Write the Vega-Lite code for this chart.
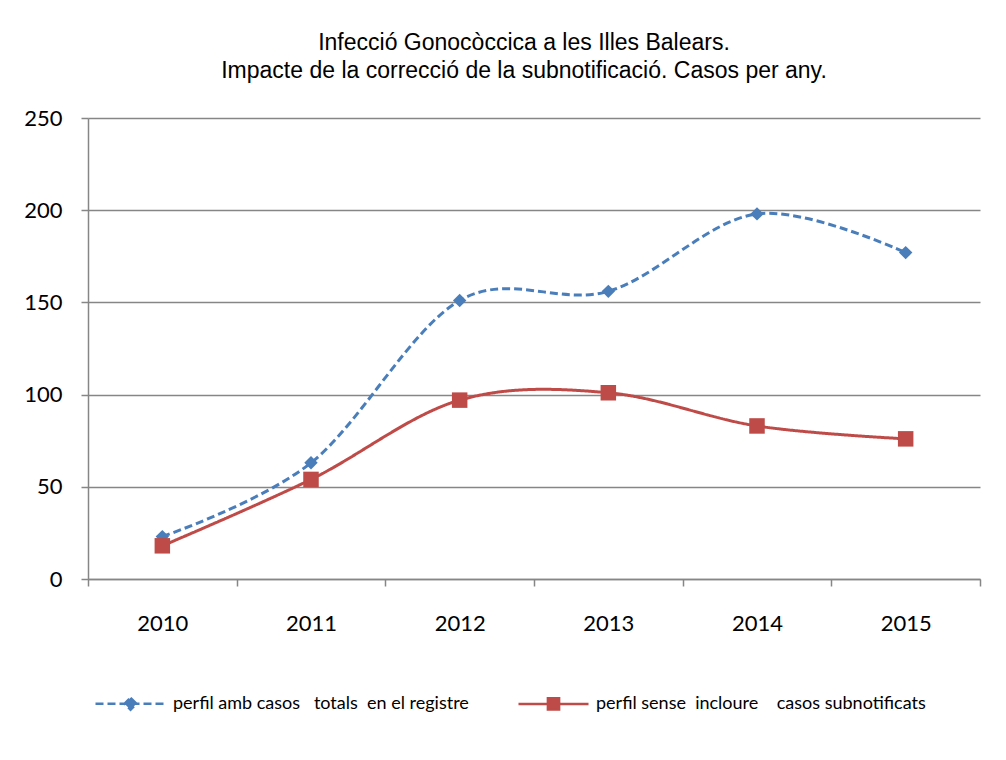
{
  "$schema": "https://vega.github.io/schema/vega-lite/v6.json",
  "width": 892,
  "height": 461,
  "autosize": {"type": "none"},
  "padding": {"left": 88, "top": 118, "right": 26, "bottom": 181},
  "background": "white",
  "title": {
    "text": ["Infecció Gonocòccica a les Illes Balears.", "Impacte de la correcció de la subnotificació. Casos per any."],
    "font": "Liberation Sans",
    "fontSize": 23,
    "fontWeight": "normal",
    "color": "#000000",
    "anchor": "middle",
    "lineHeight": 28,
    "dx": -10,
    "offset": 24
  },
  "datasets": {
    "casos": [
      {"any": 2010, "serie": "perfil amb casos\u00a0\u00a0 totals\u00a0 en el registre", "casos": 23},
      {"any": 2011, "serie": "perfil amb casos\u00a0\u00a0 totals\u00a0 en el registre", "casos": 63},
      {"any": 2012, "serie": "perfil amb casos\u00a0\u00a0 totals\u00a0 en el registre", "casos": 151},
      {"any": 2013, "serie": "perfil amb casos\u00a0\u00a0 totals\u00a0 en el registre", "casos": 156},
      {"any": 2014, "serie": "perfil amb casos\u00a0\u00a0 totals\u00a0 en el registre", "casos": 198},
      {"any": 2015, "serie": "perfil amb casos\u00a0\u00a0 totals\u00a0 en el registre", "casos": 177},
      {"any": 2010, "serie": "perfil sense\u00a0 incloure\u00a0\u00a0\u00a0 casos subnotificats", "casos": 18},
      {"any": 2011, "serie": "perfil sense\u00a0 incloure\u00a0\u00a0\u00a0 casos subnotificats", "casos": 54},
      {"any": 2012, "serie": "perfil sense\u00a0 incloure\u00a0\u00a0\u00a0 casos subnotificats", "casos": 97},
      {"any": 2013, "serie": "perfil sense\u00a0 incloure\u00a0\u00a0\u00a0 casos subnotificats", "casos": 101},
      {"any": 2014, "serie": "perfil sense\u00a0 incloure\u00a0\u00a0\u00a0 casos subnotificats", "casos": 83},
      {"any": 2015, "serie": "perfil sense\u00a0 incloure\u00a0\u00a0\u00a0 casos subnotificats", "casos": 76}
    ]
  },
  "data": {"name": "casos"},
  "encoding": {
    "x": {
      "field": "any",
      "type": "quantitative",
      "scale": {"domain": [2009.5, 2015.5], "nice": false, "zero": false},
      "axis": {
        "title": null,
        "values": [2009.5, 2010, 2010.5, 2011, 2011.5, 2012, 2012.5, 2013, 2013.5, 2014, 2014.5, 2015, 2015.5],
        "labelExpr": "datum.value % 1 === 0 ? toString(datum.value) : ''",
        "labelOverlap": false,
        "labelFont": "Lato",
        "labelFontSize": 22,
        "labelColor": "#000000",
        "labelPadding": 27,
        "labelBaseline": "top",
        "domainColor": "#868686",
        "domainWidth": 1.5,
        "tickColor": "#868686",
        "tickWidth": 1.5,
        "tickSize": 7,
        "tickOpacity": {"condition": {"test": "datum.value % 1 === 0", "value": 0}, "value": 1},
        "grid": false
      }
    },
    "y": {
      "field": "casos",
      "type": "quantitative",
      "scale": {"domain": [0, 250], "nice": false},
      "axis": {
        "title": null,
        "values": [0, 50, 100, 150, 200, 250],
        "labelFont": "Lato",
        "labelFontSize": 22,
        "labelColor": "#000000",
        "labelPadding": 19,
        "domainColor": "#868686",
        "domainWidth": 1.5,
        "tickColor": "#868686",
        "tickWidth": 1.5,
        "tickSize": 7,
        "grid": true,
        "gridColor": "#868686",
        "gridWidth": 1.5
      }
    }
  },
  "layer": [
    {
      "mark": {"type": "line", "interpolate": "cardinal", "strokeWidth": 3},
      "encoding": {
        "color": {
          "field": "serie",
          "type": "nominal",
          "scale": {"domain": ["perfil amb casos\u00a0\u00a0 totals\u00a0 en el registre", "perfil sense\u00a0 incloure\u00a0\u00a0\u00a0 casos subnotificats"], "range": ["#4A7EBB", "#BE4B48"]},
          "legend": {
            "title": null,
            "orient": "none",
            "direction": "horizontal",
            "legendX": 6,
            "legendY": 549,
            "symbolType": "M-1,0L1,0",
            "symbolSize": 4900,
            "symbolStrokeWidth": 2.5,
            "labelFont": "Lato",
            "labelFontSize": 18,
            "labelColor": "#000000",
            "labelOffset": 6,
            "labelLimit": 500,
            "columnPadding": 44,
            "encode": {
              "symbols": {
                "update": {
                  "shape": {"signal": "indexof(datum.value, 'amb') >= 0 ? 'M-1,0L1,0M0,-0.17L0.17,0L0,0.17L-0.17,0Z' : 'M-1,0L1,0M-0.16,-0.16L0.16,-0.16L0.16,0.16L-0.16,0.16Z'"},
                  "fill": {"signal": "indexof(datum.value, 'amb') >= 0 ? '#4A7EBB' : '#BE4B48'"},
                  "stroke": {"signal": "indexof(datum.value, 'amb') >= 0 ? '#4A7EBB' : '#BE4B48'"},
                  "strokeDash": {"signal": "indexof(datum.value, 'amb') >= 0 ? [6, 3] : [1, 0]"},
                  "strokeWidth": {"value": 2.5},
                  "size": {"value": 4900},
                  "fillOpacity": {"value": 1},
                  "strokeOpacity": {"value": 1},
                  "opacity": {"value": 1}
                }
              }
            }
          }
        },
        "strokeDash": {
          "field": "serie",
          "type": "nominal",
          "scale": {"domain": ["perfil amb casos\u00a0\u00a0 totals\u00a0 en el registre", "perfil sense\u00a0 incloure\u00a0\u00a0\u00a0 casos subnotificats"], "range": [[8, 4], [1, 0]]},
          "legend": null
        }
      }
    },
    {
      "transform": [{"filter": "indexof(datum.serie, 'amb') >= 0"}],
      "mark": {"type": "point", "filled": true, "opacity": 1, "shape": "diamond", "size": 180, "color": "#4A7EBB"},
      "encoding": {}
    },
    {
      "transform": [{"filter": "indexof(datum.serie, 'sense') >= 0"}],
      "mark": {"type": "point", "filled": true, "opacity": 1, "shape": "square", "size": 240, "color": "#BE4B48"},
      "encoding": {}
    }
  ],
  "config": {
    "view": {"stroke": null}
  }
}
